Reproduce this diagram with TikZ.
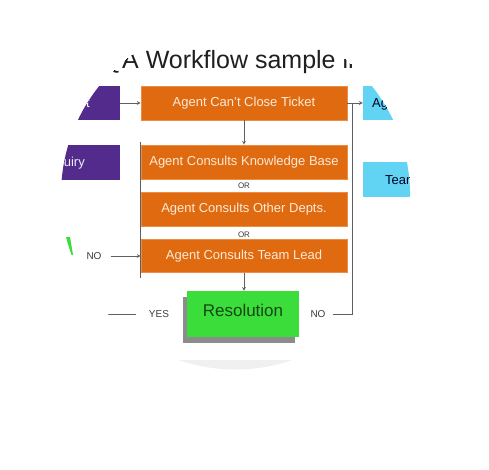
\documentclass[tikz,border=0pt]{standalone}
\usepackage{fontspec}
\setmainfont{Liberation Sans}
\usetikzlibrary{shadows}
\begin{document}
\begin{tikzpicture}[x=1pt, y=-1pt, >=stealth,
  stepbox/.style={draw=stepedge, line width=0.8pt, fill=stepcolor, text=steptext,
    minimum width=206pt, minimum height=34pt, inner sep=0pt, font=\fontsize{13}{15}\selectfont},
  sidebox/.style={minimum height=34pt, inner sep=0pt},
  flowline/.style={draw=linecolor, line width=0.7pt},
  sidetext/.style={inner sep=0pt, font=\fontsize{13}{15}\selectfont},
  small/.style={text=labelcolor, inner sep=1pt, font=\fontsize{10}{12}\selectfont}]

\definecolor{stepcolor}{RGB}{224, 106, 16}
\definecolor{stepedge}{RGB}{236, 140, 70}
\definecolor{steptext}{RGB}{253, 234, 216}
\definecolor{intakecolor}{RGB}{82, 43, 140}
\definecolor{agentcolor}{RGB}{96, 212, 242}
\definecolor{rescolor}{RGB}{58, 221, 58}
\definecolor{restext}{RGB}{22, 70, 22}
\definecolor{linecolor}{RGB}{95, 95, 95}
\definecolor{labelcolor}{RGB}{60, 60, 60}

\fill[white] (0,0) rectangle (489,470);
\useasboundingbox (0,0) rectangle (489,470);

\begin{scope}
\clip (235.5,195) circle (174.5pt);

\fill[gray!12] (0,360) rectangle (489,400);
\fill[rescolor] (40,237) -- (70,237) -- (73,255) -- (40,255) -- cycle;

\node[anchor=base west, inner sep=0pt, text=black!88, font=\fontsize{25}{30}\selectfont] (title) at (102.5,68.5) {QA Workflow sample in};

% side boxes, cut by the circle
\node[sidebox, fill=intakecolor, minimum width=100pt] (intake) at (70,103) {};
\node[sidetext, anchor=east, text=white] (intaketxt) at (90,103) {Ticket};
\node[sidebox, fill=intakecolor, minimum width=100pt, minimum height=35pt] (inquiry) at (70,162.5) {};
\node[sidetext, anchor=east, text=intakecolor!8] (inquirytxt) at (85,163) {Inquiry};
\node[sidebox, fill=agentcolor, minimum width=60pt] (agent) at (393,103) {};
\node[sidetext, anchor=west, text=black!85!blue] (agenttxt) at (372,104) {Agent};
\node[sidebox, fill=agentcolor, minimum width=60pt, minimum height=35pt] (team) at (393,179.5) {};
\node[sidetext, anchor=west, text=black!85!blue] (teamtxt) at (385,180) {Team};

% steps
\node[stepbox] (ticket) at (244,103) {Agent Can't Close Ticket};
\node[stepbox] (kb) at (244,162) {Agent Consults Knowledge Base};
\node[stepbox] (depts) at (244,209) {Agent Consults Other Depts.};
\node[stepbox, minimum height=33pt] (lead) at (244,256) {Agent Consults Team Lead};
\node[text=labelcolor, inner sep=0pt, font=\fontsize{8}{9}\selectfont] (or1) at (244,186) {OR};
\node[text=labelcolor, inner sep=0pt, font=\fontsize{8}{9}\selectfont] (or2) at (244,234.5) {OR};

\node[fill=rescolor, minimum width=112pt, inner xsep=0pt, inner ysep=13pt,
  text height=12pt, text depth=8pt, text=restext, font=\fontsize{17}{20}\selectfont,
  drop shadow={shadow xshift=-4pt, shadow yshift=-6pt, fill=black!75, opacity=0.6}] (res) at (243,314) {Resolution};

\node[small] (no1) at (94,256) {NO};
\node[small] (yes) at (159,314) {YES};
\node[small] (no2) at (318,314) {NO};

% connectors
\coordinate (rail) at (352,103);
\coordinate (yestail) at (95,314);
\draw[flowline, ->] (intake) -- (ticket);
\draw[flowline, ->] (ticket) -- (agent);
\draw[flowline, ->] (ticket) -- (kb);
\draw[flowline, ->] (lead.south) -- (lead.south |- res.north);
\draw[flowline, ->] ([xshift=8pt]no1.east) -- (lead.west);
\draw[flowline] ([xshift=6pt]no2.east) -| (rail);
\draw[flowline] (yestail) -- ([xshift=-12pt]yes.west);
\draw[flowline] ([xshift=-0.6pt, yshift=3pt]kb.north west) -- ([xshift=-0.6pt, yshift=-5pt]lead.south west);
\end{scope}

\end{tikzpicture}
\end{document}
